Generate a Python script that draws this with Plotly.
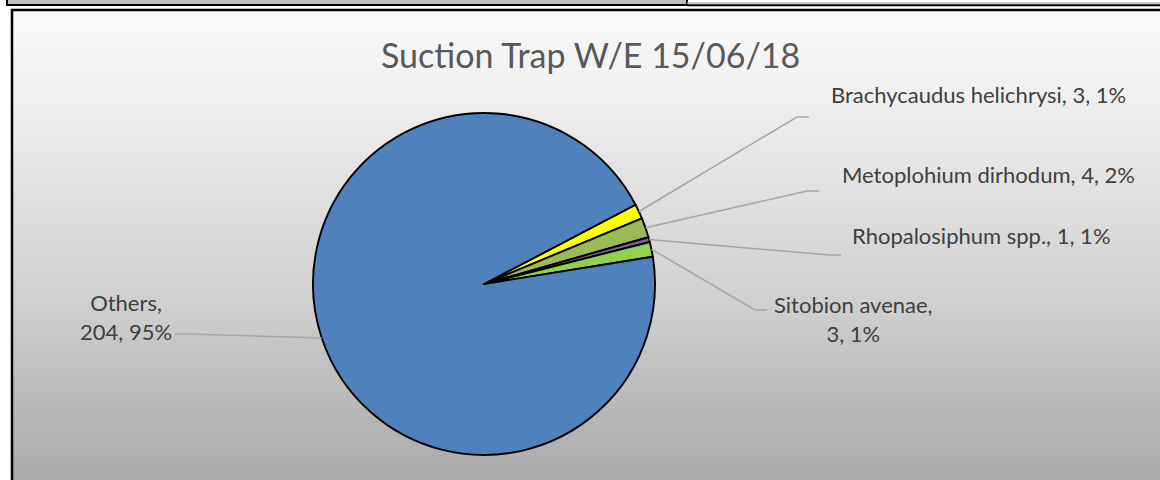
import math
import plotly.graph_objects as go

# ---------------- data ----------------
labels = ["Brachycaudus helichrysi", "Metoplohium dirhodum", "Rhopalosiphum spp.",
          "Sitobion avenae", "Others"]
counts = [3, 4, 1, 3, 204]
pct_labels = ["1%", "2%", "1%", "1%", "95%"]
colors = ["#FFFF00", "#9BBB59", "#8064A2", "#92D050", "#4F81BD"]
title_text = "Suction Trap W/E 15/06/18"

# ---------------- layout constants ----------------
W, H = 1160, 480
CX, CY, R = 484, 284, 171          # pie centre / radius in pixels
ROTATION = 62.4                    # first slice start angle (deg, clockwise from 12)
FONT = "Lato, Carlito, Calibri, sans-serif"
LABEL_COLOR = "#404040"
LINE_COLOR = "#A6A6A6"

# label placement: (text x, text y, elbow point, end point, wrap after name)
label_pos = [
    (978, 94, (797, 117), (809, 117), False),
    (988, 174, (807, 191), (819, 191), False),
    (981, 235, (829, 255), (841, 255), False),
    (853, 319, (755, 310), (767, 310), True),
    (126, 317, (187, 334), (175, 334), True),
]

# gradient stops of the chart area background (y pixel, grey level)
grad_stops = [(10, 251), (105, 238), (300, 208), (380, 190), (482, 169)]

fig = go.Figure()

fig.add_trace(go.Pie(
    labels=labels,
    values=counts,
    sort=False,
    direction="clockwise",
    rotation=ROTATION,
    marker=dict(colors=colors, line=dict(color="#000000", width=1.9)),
    textinfo="none",
    hoverinfo="label+value+percent",
    showlegend=False,
    domain=dict(x=[(CX - R) / W, (CX + R) / W],
                y=[(H - CY - R) / H, (H - CY + R) / H]),
))

shapes = []


def grey_at(y):
    for (y0, g0), (y1, g1) in zip(grad_stops[:-1], grad_stops[1:]):
        if y0 <= y <= y1:
            return g0 + (g1 - g0) * (y - y0) / (y1 - y0)
    return grad_stops[-1][1]


# gradient background bands
band = 2
y = 10
while y < H:
    g = int(round(grey_at(y + band / 2)))
    shapes.append(dict(type="rect", xref="x", yref="y", x0=12, x1=W + 5, y0=y, y1=y + band + 0.6,
                       fillcolor=f"rgb({g},{g},{g})", line=dict(width=0), layer="below"))
    y += band

# chart border
shapes.append(dict(type="rect", xref="x", yref="y", x0=12, x1=W + 10, y0=10, y1=H + 10,
                   line=dict(color="#000000", width=2.5), fillcolor="rgba(0,0,0,0)", layer="above"))
# strip of the element above the chart
shapes.append(dict(type="rect", xref="x", yref="y", x0=7, x1=687, y0=-4, y1=5,
                   fillcolor="#BEBEBE", line=dict(color="#000000", width=2), layer="above"))
shapes.append(dict(type="line", xref="x", yref="y", x0=687, x1=W + 5, y0=3, y1=3,
                   line=dict(color="#B4B4B4", width=1.5), layer="above"))
shapes.append(dict(type="line", xref="x", yref="y", x0=687, x1=W + 5, y0=5.2, y1=5.2,
                   line=dict(color="#000000", width=2), layer="above"))

# leader lines + labels
total = sum(counts)
cum = 0
annotations = []
for i, (lab, v, pct) in enumerate(zip(labels, counts, pct_labels)):
    mid = math.radians(ROTATION + (cum + v / 2) / total * 360)
    cum += v
    px = CX + R * math.sin(mid)
    py = CY - R * math.cos(mid)
    tx, ty, elbow, end, wrap = label_pos[i]
    shapes.append(dict(type="path", xref="x", yref="y",
                       path=f"M {px:.1f},{py:.1f} L {elbow[0]},{elbow[1]} L {end[0]},{end[1]}",
                       line=dict(color=LINE_COLOR, width=1.5), layer="above"))
    sep = ",<br>" if wrap else ", "
    annotations.append(dict(x=tx, y=ty, xref="x", yref="y", showarrow=False,
                            text=f"{lab}{sep}{v}, {pct}", align="center",
                            font=dict(family=FONT, size=22, color=LABEL_COLOR),
                            xanchor="center", yanchor="middle"))

annotations.append(dict(x=590, y=54, xref="x", yref="y", showarrow=False, text=title_text,
                        font=dict(family=FONT, size=34, color="#595959"),
                        xanchor="center", yanchor="middle"))

fig.update_layout(
    width=W, height=H,
    margin=dict(l=0, r=0, t=0, b=0),
    paper_bgcolor="#FFFFFF",
    plot_bgcolor="rgba(0,0,0,0)",
    xaxis=dict(range=[0, W], visible=False, fixedrange=True),
    yaxis=dict(range=[H, 0], visible=False, fixedrange=True),
    shapes=shapes,
    annotations=annotations,
    showlegend=False,
)

fig.write_html(
    "out.html",
    config={"displayModeBar": False},
    post_script="document.body.style.margin='0';document.body.style.padding='0';"
                "document.body.style.overflow='hidden';",
)
